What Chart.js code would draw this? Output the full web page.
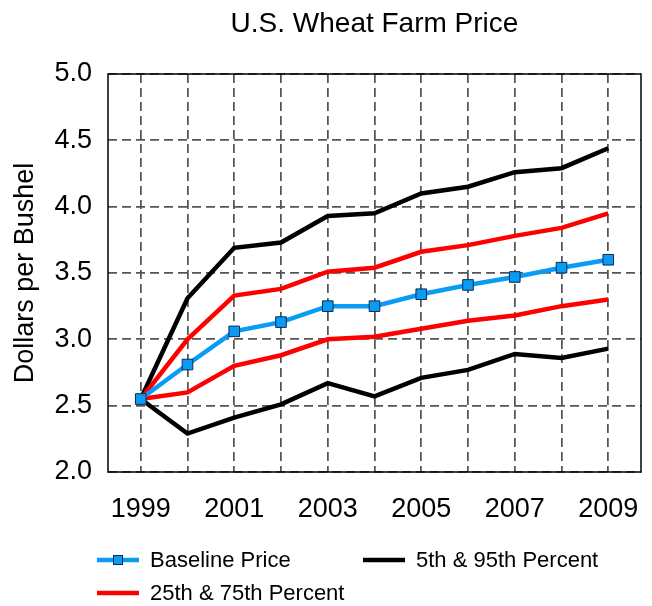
<!DOCTYPE html>
<html>
<head>
<meta charset="utf-8">
<script src="https://cdn.jsdelivr.net/npm/chart.js@4/dist/chart.umd.min.js"></script>
<style>
  html, body { margin: 0; padding: 0; background: #fff; }
  #wrap { width: 652px; height: 606px; position: relative; }
</style>
</head>
<body>
<div id="wrap"><canvas id="wheatChart"></canvas></div>
<script>
// Years on the x axis and the labels that are printed
const years = [1999, 2000, 2001, 2002, 2003, 2004, 2005, 2006, 2007, 2008, 2009];
const labelYears = [1999, 2001, 2003, 2005, 2007, 2009];
const yTicks = [2.0, 2.5, 3.0, 3.5, 4.0, 4.5, 5.0];

// Series ($ per bushel)
const baseline = [2.55, 2.81, 3.06, 3.13, 3.25, 3.25, 3.34, 3.41, 3.47, 3.54, 3.60];
const pct95 = [2.55, 3.31, 3.69, 3.73, 3.93, 3.95, 4.10, 4.15, 4.26, 4.29, 4.44];
const pct75 = [2.55, 3.00, 3.33, 3.38, 3.51, 3.54, 3.66, 3.71, 3.78, 3.84, 3.95];
const pct25 = [2.55, 2.60, 2.80, 2.88, 3.00, 3.02, 3.08, 3.14, 3.18, 3.25, 3.30];
const pct5 = [2.55, 2.29, 2.41, 2.51, 2.67, 2.57, 2.71, 2.77, 2.89, 2.86, 2.93];

const FONT = '"Liberation Sans", Arial, sans-serif';
const BLUE = '#0A9BF5';

function pts(arr) {
    return arr.map((v, i) => ({ x: years[i], y: v }));
}

function lineSet(label, arr, color) {
    return {
        label: label,
        data: pts(arr),
        borderColor: color,
        backgroundColor: color,
        borderWidth: 4.5,
        pointRadius: 0,
        tension: 0,
        borderJoinStyle: 'miter'
    };
}

// title, plot frame and legend are drawn by hand
const extras = {
    id: 'extras',
    afterDraw(chart) {
        const c = chart.ctx;
        const a = chart.chartArea;
        c.save();
        // frame
        c.strokeStyle = '#000';
        c.lineWidth = 1.5;
        c.strokeRect(a.left, a.top, a.right - a.left, a.bottom - a.top);

        // title
        c.fillStyle = '#000';
        c.font = '28px ' + FONT;
        c.textAlign = 'center';
        c.textBaseline = 'alphabetic';
        c.fillText('U.S. Wheat Farm Price', (a.left + a.right) / 2, 32);

        // legend
        const items = [
            { text: 'Baseline Price', color: BLUE, marker: true, x: 97, y: 560 },
            { text: '5th & 95th Percent', color: '#000', marker: false, x: 363, y: 560 },
            { text: '25th & 75th Percent', color: '#f00', marker: false, x: 97, y: 593 }
        ];
        c.font = '22px ' + FONT;
        c.textAlign = 'left';
        c.textBaseline = 'middle';
        items.forEach(it => {
            c.strokeStyle = it.color;
            c.lineWidth = 4.5;
            c.beginPath();
            c.moveTo(it.x, it.y);
            c.lineTo(it.x + 42, it.y);
            c.stroke();
            if (it.marker) {
                c.fillStyle = BLUE;
                c.fillRect(it.x + 16.5, it.y - 4.5, 9, 9);
                c.strokeStyle = '#0a2a55';
                c.lineWidth = 1;
                c.strokeRect(it.x + 16.5, it.y - 4.5, 9, 9);
            }
            c.fillStyle = '#000';
            c.fillText(it.text, it.x + 53, it.y + 1);
        });
        c.restore();
    }
};

new Chart(document.getElementById('wheatChart'), {
    type: 'line',
    data: {
        datasets: [
            {
                label: 'Baseline Price',
                data: pts(baseline),
                borderColor: BLUE,
                backgroundColor: BLUE,
                borderWidth: 4.5,
                pointStyle: 'rect',
                pointRadius: 7.5,
                pointBorderColor: '#0a2a55',
                pointBorderWidth: 1,
                pointBackgroundColor: BLUE,
                tension: 0
            },
            lineSet('75th Percent', pct75, '#ff0000'),
            lineSet('25th Percent', pct25, '#ff0000'),
            lineSet('95th Percent', pct95, '#000000'),
            lineSet('5th Percent', pct5, '#000000')
        ]
    },
    options: {
        responsive: true,
        maintainAspectRatio: false,
        animation: false,
        layout: { padding: { left: 0, right: 11, top: 74, bottom: 0 } },
        plugins: {
            legend: { display: false },
            tooltip: { enabled: false }
        },
        scales: {
            x: {
                type: 'linear',
                min: 1998.3,
                max: 2009.7,
                afterBuildTicks: (scale) => {
                    scale.ticks = years.map(y => ({ value: y }));
                },
                afterFit: (scale) => {
                    scale.height = 134;
                    scale.paddingLeft = 0;
                    scale.paddingRight = 0;
                },
                grid: {
                    color: '#555',
                    lineWidth: 1.75,
                    drawTicks: false
                },
                border: { display: false, dash: [9, 5] },
                ticks: {
                    autoSkip: false,
                    maxRotation: 0,
                    padding: 21,
                    color: '#000',
                    font: { family: FONT, size: 27 },
                    callback: (v) => labelYears.includes(v) ? String(v) : ''
                }
            },
            y: {
                min: 2,
                max: 5,
                afterBuildTicks: (scale) => {
                    scale.ticks = yTicks.map(v => ({ value: v }));
                },
                afterFit: (scale) => {
                    scale.width = 108;
                    scale.paddingTop = 0;
                    scale.paddingBottom = 0;
                },
                grid: {
                    color: '#555',
                    lineWidth: 1.75,
                    drawTicks: false
                },
                border: { display: false, dash: [9, 5] },
                ticks: {
                    padding: 16,
                    color: '#000',
                    font: { family: FONT, size: 27 },
                    callback: (v) => v.toFixed(1)
                },
                title: {
                    display: true,
                    text: 'Dollars per Bushel',
                    color: '#000',
                    font: { family: FONT, size: 27 },
                    padding: { top: 9, bottom: 0 }
                }
            }
        }
    },
    plugins: [extras]
});
</script>
</body>
</html>
